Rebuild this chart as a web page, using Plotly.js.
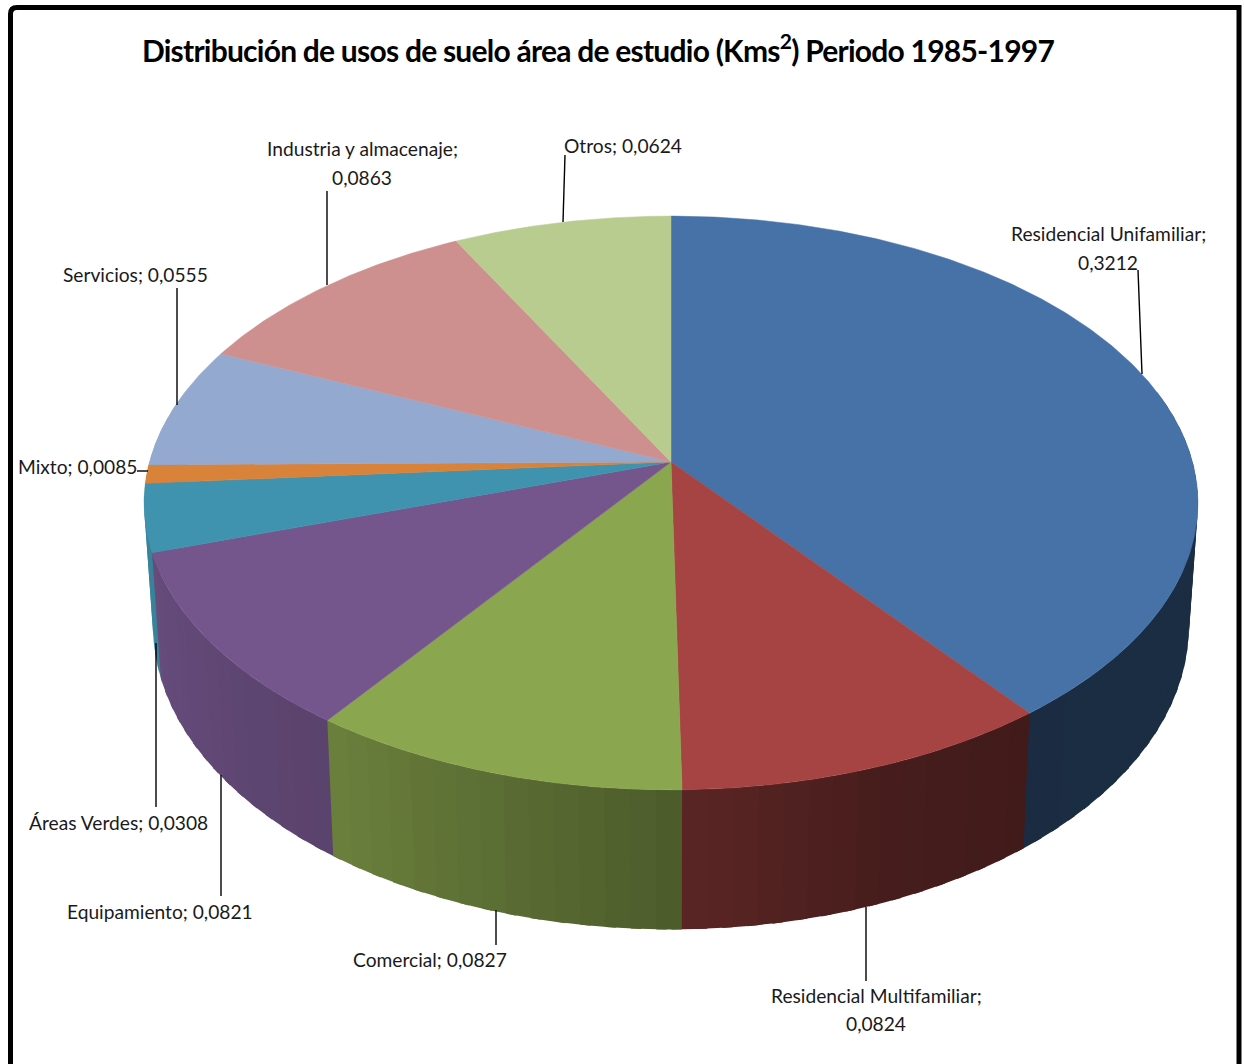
<!DOCTYPE html>
<html><head><meta charset="utf-8">
<script src="https://cdn.plot.ly/plotly-3.0.1.min.js"></script>
<style>html,body{margin:0;padding:0;background:#fff}#c{width:1244px;height:1064px}
.gtitle{letter-spacing:-0.76px}</style>
</head><body><div id="c"></div>
<script>
// DATA
const categories = ["Residencial Unifamiliar","Residencial Multifamiliar","Comercial","Equipamiento","Áreas Verdes","Mixto","Servicios","Industria y almacenaje","Otros"];
const values = [0.3212,0.0824,0.0827,0.0821,0.0308,0.0085,0.0555,0.0863,0.0624];
const colors = ["#4672A8","#A54442","#8AA64E","#74568C","#3F93AE","#D9823A","#93A9CF","#CD908F","#B9CC8F"];
const titleText = "Distribución de usos de suelo área de estudio (Kms<sup>2</sup>) Periodo 1985-1997";
// LABEL LAYOUT (same order as categories); a label with a second-line y is set on two lines
const labelX = [1108,876,430,160,118,77,135,362,623];
const labelY = [233,995,959,911,822,466,274,148,145];
const label2Y = [262,1023,null,null,null,null,null,177,null];
const leaderX = [[1138,1142],[866,866],[496,496],[221,221],[156,156],[137,148],[177,177],[327,327],[565,563]];
const leaderY = [[270,374],[907,981],[910,945],[775,896],[643,807],[471,471],[288,405],[191,285],[155,222]];
// PIE GEOMETRY (perspective projection of a cylinder)
const CX=671, CY=462, A=281, B=521.5, K=0.1428, DROP=121, DY=1.057, DX=0.983;
const shadeA=[0,143,160,179,215,252,270,360], shadeV=[.4,.39,.43,.55,.77,.88,.95,.95];

function shade(a){let i=0;while(i<shadeA.length-2&&a>shadeA[i+1])i++;
  return shadeV[i]+(shadeV[i+1]-shadeV[i])*(a-shadeA[i])/(shadeA[i+1]-shadeA[i]);}
function hex(c,f){const n=parseInt(c.slice(1),16);
  return `rgb(${Math.round((n>>16)*f)},${Math.round(((n>>8)&255)*f)},${Math.round((n&255)*f)})`;}
function topPt(a){const r=a*Math.PI/180,X=Math.sin(r),Y=Math.cos(r),d=1+K*Y;
  return [CX+B*X/d,CY-A*Y/d];}
function botPt(a){const p=topPt(a);return [CX+(p[0]-CX)*DX,CY+DROP+(p[1]-CY)*DY];}

const total=values.reduce((s,v)=>s+v,0);
let cum=0;const slices=values.map((v,i)=>{const s=cum/total*360;cum+=v;return {s,e:cum/total*360,c:colors[i]};});

const strips=[];
slices.forEach(sl=>{
  const n=Math.max(1,Math.ceil((sl.e-sl.s)/2.5));
  for(let j=0;j<n;j++){
    const a=sl.s+(sl.e-sl.s)*j/n,b=sl.s+(sl.e-sl.s)*(j+1)/n,m=(a+b)/2;
    const y=Math.cos(m*Math.PI/180);
    if(y>0.25)continue;
    strips.push({a,b,y,col:hex(sl.c,shade(m))});
  }
});
strips.sort((p,q)=>q.y-p.y);
const traces=[];
function poly(pts,col,w){
  traces.push({type:'scatter',mode:'lines',x:pts.map(p=>p[0]),y:pts.map(p=>p[1]),fill:'toself',fillcolor:col,
    line:{color:col,width:w},hoverinfo:'skip',showlegend:false});
}
strips.forEach(s=>{
  // the end toward the viewer runs under the next strip, so no seam shows
  const a=s.a>=180?s.a-1:s.a, b=s.b<=180?s.b+1:s.b;
  poly([topPt(a),topPt(b),botPt(b),botPt(a),topPt(a)],s.col,0);
});
slices.forEach(sl=>{
  const pts=[[CX,CY]];const n=Math.ceil(sl.e-sl.s)*2;
  for(let j=0;j<=n;j++)pts.push(topPt(sl.s+(sl.e-sl.s)*j/n));
  pts.push([CX,CY]);poly(pts,sl.c,0.5);
});
leaderX.forEach((lx,i)=>traces.push({type:'scatter',mode:'lines',x:lx,y:leaderY[i],
  line:{color:'#000',width:1.4},hoverinfo:'skip',showlegend:false}));

const labelFont={family:'Lato, sans-serif',size:19.2,color:'#1a1a1a'};
const annotations=[];
categories.forEach((c,i)=>{
  const v=values[i].toFixed(4).replace('.',',');
  const line=(text,y)=>annotations.push({xref:'x',yref:'y',x:labelX[i],y,showarrow:false,xanchor:'center',yanchor:'middle',text,font:labelFont});
  if(label2Y[i]===null){line(c+"; "+v,labelY[i]);}
  else{line(c+";",labelY[i]);line(v,label2Y[i]);}
});

const layout={
  width:1244,height:1064,margin:{l:0,r:0,t:0,b:0},paper_bgcolor:'#fff',plot_bgcolor:'#fff',showlegend:false,
  title:{text:titleText,x:598/1244,xanchor:'center',y:1-51/1064,yanchor:'middle',font:{family:'Lato, sans-serif',size:30,color:'#000',weight:700}},
  xaxis:{range:[0,1244],visible:false,fixedrange:true},
  yaxis:{range:[1064,0],visible:false,fixedrange:true},
  annotations,
  shapes:[{type:'path',xref:'x',yref:'y',path:'M 10.5 1070 L 10.5 14 Q 10.5 7.5 17 7.5 L 1239 7.5 L 1239 1070',line:{color:'#000',width:5}}]
};
Plotly.newPlot('c',traces,layout,{displayModeBar:false,staticPlot:true});
</script></body></html>
